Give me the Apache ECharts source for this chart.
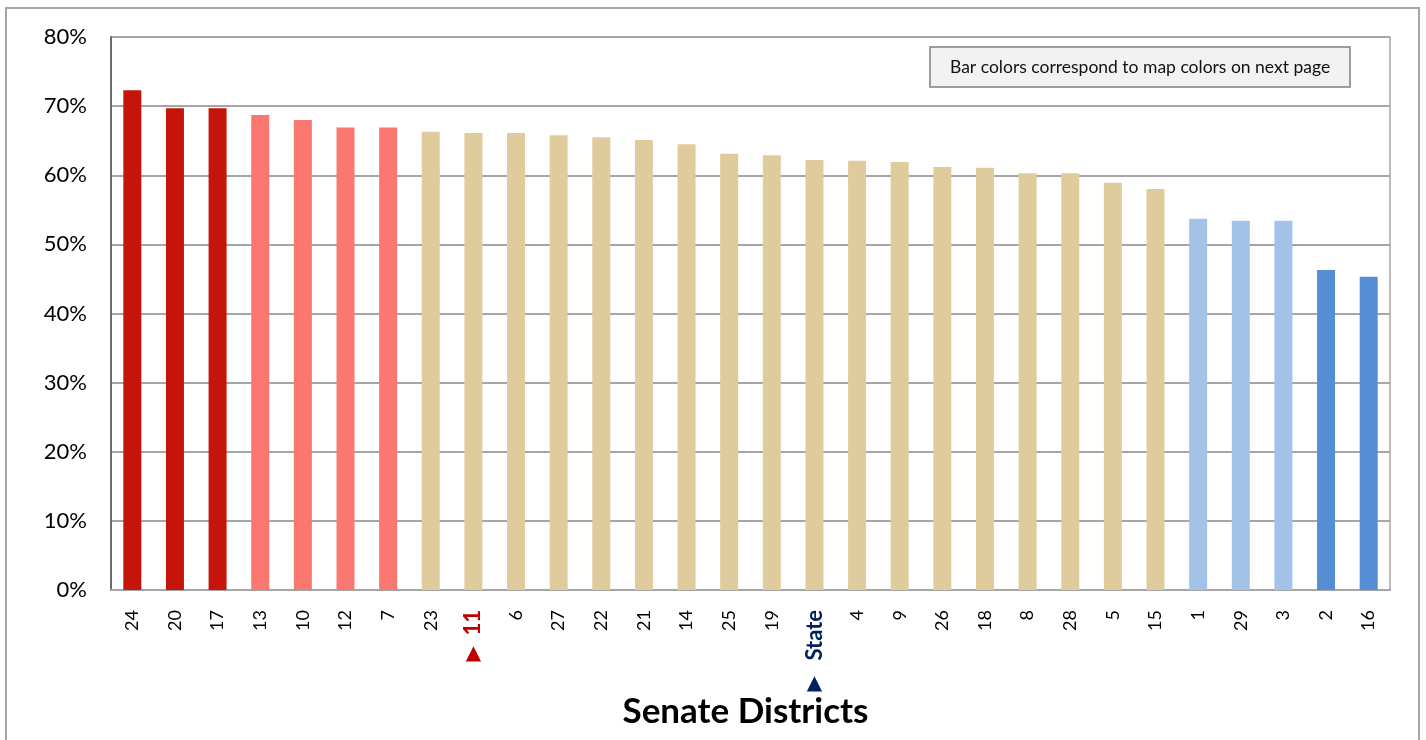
<!DOCTYPE html>
<html>
<head>
<meta charset="utf-8">
<title>Senate Districts</title>
<script src="https://cdn.jsdelivr.net/npm/echarts@6/dist/echarts.min.js"></script>
<style>
  html, body { margin: 0; padding: 0; background: #fff; }
  #main { width: 1426px; height: 740px; }
</style>
</head>
<body>
<div id="main"></div>
<script>
// district labels, left to right
var districts = ['24','20','17','13','10','12','7','23','11','6','27','22','21','14','25','19','State','4','9','26','18','8','28','5','15','1','29','3','2','16'];
// percent values
var values = [72.3,69.7,69.7,68.7,68.0,66.9,66.9,66.3,66.1,66.1,65.8,65.5,65.1,64.5,63.1,62.9,62.2,62.1,61.9,61.2,61.1,60.3,60.3,58.9,58.0,53.7,53.4,53.4,46.3,45.3];
// colour group of each bar (matches the map on next page)
var tiers = [0,0,0,1,1,1,1,2,2,2,2,2,2,2,2,2,2,2,2,2,2,2,2,2,2,3,3,3,4,4];
var yTicks = [0,10,20,30,40,50,60,70,80];

var palette = ['#C5150A', '#FA7870', '#E0CB9D', '#A3C2E8', '#558ED5'];
var font = 'Lato, "Open Sans", sans-serif';

var myChart = echarts.init(document.getElementById('main'));

var option = {
    backgroundColor: '#fff',
    animation: false,
    title: {
        text: 'Bar colors correspond to map colors on next page',
        left: 930, top: 47,
        padding: [11, 20, 11, 20],
        backgroundColor: '#F2F2F2',
        borderColor: '#7F7F7F',
        borderWidth: 1.5,
        textStyle: { fontFamily: font, fontSize: 17.5, fontWeight: 'normal', color: '#111' }
    },
    graphic: [{
        type: 'rect',
        shape: { x: 6, y: 8, width: 1413, height: 760 },
        style: { fill: null, stroke: '#A6A6A6', lineWidth: 2 },
        silent: true
    }],
    grid: {
        left: 111, right: 36, top: 37, bottom: 150,
        outerBoundsMode: 'none',
        containLabel: false,
        show: true, borderColor: '#A6A6A6', borderWidth: 1.5
    },
    xAxis: [{
        type: 'category',
        data: districts,
        name: 'Senate Districts',
        nameLocation: 'middle',
        nameGap: 104,
        nameTextStyle: { fontFamily: font, fontSize: 35, fontWeight: 'bold', color: '#000', padding: [0, 10, 0, 0] },
        axisLine: { lineStyle: { color: '#A6A6A6', width: 2 } },
        axisTick: { show: false },
        axisLabel: {
            rotate: 90,
            margin: 20,
            fontFamily: font,
            fontSize: 18,
            color: '#000',
            interval: 0,
            formatter: function (v) {
                if (v === '11') return '{r|' + v + '}';
                if (v === 'State') return '{s|' + v + '}';
                return v;
            },
            rich: {
                r: { fontFamily: font, fontSize: 22, fontWeight: 'bold', color: '#C00000' },
                s: { fontFamily: font, fontSize: 22, fontWeight: 'bold', color: '#002060' }
            }
        }
    }, {
        type: 'category',
        data: districts,
        position: 'bottom',
        axisLine: { show: false },
        axisTick: { show: false },
        splitLine: { show: false },
        axisLabel: {
            interval: 0,
            margin: 54,
            formatter: function (v) {
                if (v === '11') return '{r|▲}';
                if (v === 'State') return '{s|▲}';
                return '';
            },
            rich: {
                r: { fontFamily: 'DejaVu Sans', fontSize: 20, color: '#C00000' },
                s: { fontFamily: 'DejaVu Sans', fontSize: 20, color: '#002060', padding: [30, 0, 0, 0] }
            }
        }
    }],
    yAxis: {
        type: 'value',
        min: 0, max: 80, interval: 10,
        axisLine: { show: true, lineStyle: { color: '#6B6B6B', width: 2 } },
        axisTick: { show: false },
        splitLine: { lineStyle: { color: '#A6A6A6', width: 2 } },
        axisLabel: {
            margin: 24,
            fontFamily: font,
            fontSize: 22,
            color: '#000',
            customValues: yTicks,
            formatter: '{value}%'
        }
    },
    series: [{
        type: 'bar',
        barWidth: 18,
        data: values.map(function (v, i) {
            return { value: v, itemStyle: { color: palette[tiers[i]] } };
        })
    }]
};

myChart.setOption(option);
</script>
</body>
</html>
